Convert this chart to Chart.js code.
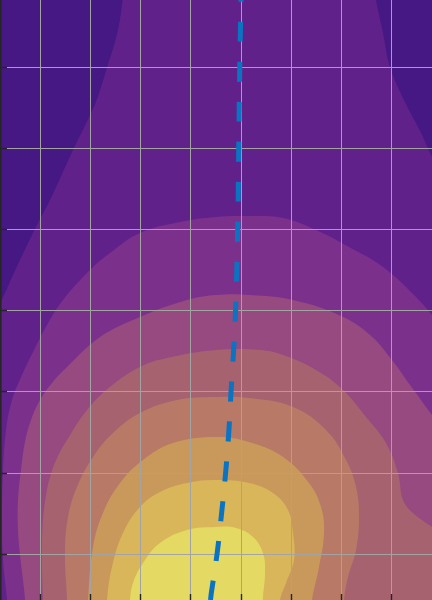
<!DOCTYPE html>
<html>
<head>
<meta charset="utf-8">
<script src="https://cdn.jsdelivr.net/npm/chart.js@4/dist/chart.umd.min.js"></script>
<style>
  html, body { margin: 0; padding: 0; background: #fff; overflow: hidden; }
  canvas { display: block; }
</style>
</head>
<body>
<canvas id="chart" width="432" height="600"></canvas>
<script>
// tick positions (the labels sit outside the cropped view, only the marks show)
const X_TICKS = [0, 1, 2, 3, 4, 5, 6, 7];
const Y_TICKS = [0, 1, 2, 3, 4, 5, 6];
const X_MIN = -0.803, X_MAX = 7.803;
const Y_MIN = -0.565, Y_MAX = 6.834;

// filled contours: outline of the region at or above each level
const level0 = [[-1, -0.8], [8, -0.8], [8, 7], [-1, 7]];
const level1 = [
  [1.66, 7.0], [1.641, 6.834], [1.534, 6.427], [1.333, 6.008], [1.123, 5.6], [0.99, 5.414],
  [0.671, 5.008], [0.193, 4.367], [-0.106, 4.01], [-0.47, 3.541], [-0.769, 3.134], [-1.0, 2.85],
  [-1.0, -0.8], [8.0, -0.8], [8.0, 4.65], [7.803, 4.898], [7.584, 5.193], [7.245, 5.6],
  [6.966, 6.008], [6.827, 6.427], [6.687, 6.834], [6.65, 7.0]
];
const level2 = [
  [-0.65, -0.8], [-0.663, -0.565], [-0.743, -0.072], [-0.763, 0.422], [-0.743, 1.038],
  [-0.683, 1.531], [-0.564, 1.901], [-0.365, 2.21], [-0.125, 2.518], [0.133, 2.826],
  [0.452, 3.134], [0.99, 3.504], [1.388, 3.714], [1.986, 3.961], [2.783, 4.096], [3.5, 4.158],
  [4.177, 4.17], [4.835, 4.145], [5.492, 3.998], [6.149, 3.788], [6.827, 3.541], [7.484, 3.171],
  [7.803, 2.949], [8.0, 2.8], [8.0, -0.8]
];
const level3 = [
  [-0.305, -0.8], [-0.305, -0.565], [-0.345, -0.318], [-0.404, -0.01], [-0.444, 0.298],
  [-0.444, 0.668], [-0.384, 1.038], [-0.305, 1.383], [-0.185, 1.655], [-0.006, 1.901],
  [0.233, 2.111], [0.532, 2.308], [1.189, 2.678], [1.986, 2.925], [2.922, 3.134], [3.5, 3.196],
  [4.177, 3.196], [5.034, 3.134], [5.99, 2.937], [6.568, 2.703], [7.006, 2.395], [7.365, 2.086],
  [7.803, 1.716], [8.0, 1.55], [8.0, -0.8]
];
const level4 = [
  [0.054, -0.8], [0.054, -0.565], [0.034, -0.195], [0.034, 0.113], [0.054, 0.422], [0.114, 0.73],
  [0.213, 0.989], [0.353, 1.211], [0.532, 1.408], [0.93, 1.778], [1.388, 2.062], [1.986, 2.308],
  [2.524, 2.419], [3.5, 2.518], [4.376, 2.518], [4.835, 2.456], [5.492, 2.271], [6.03, 2.025],
  [6.488, 1.692], [6.886, 1.371], [7.125, 1.001], [7.225, 0.668], [7.424, 0.508], [7.803, 0.335],
  [8.0, 0.25], [8.0, -0.8]
];
const level5 = [
  [0.532, -0.8], [0.532, -0.565], [0.492, 0.015], [0.552, 0.459], [0.731, 0.829], [1.05, 1.199],
  [1.448, 1.494], [1.986, 1.741], [2.723, 1.901], [3.5, 1.938], [4.157, 1.926], [5.034, 1.815],
  [5.691, 1.531], [6.09, 1.162], [6.289, 0.829], [6.349, 0.459], [6.289, 0.052], [6.129, -0.281],
  [6.05, -0.565], [6.03, -0.8]
];
const level6 = [
  [0.95, -0.8], [0.95, -0.565], [1.05, 0.089], [1.249, 0.508], [1.588, 0.878], [2.046, 1.162],
  [2.643, 1.371], [3.5, 1.445], [4.157, 1.383], [4.835, 1.199], [5.352, 0.878], [5.592, 0.582],
  [5.651, 0.261], [5.552, -0.158], [5.412, -0.565], [5.39, -0.8]
];
const level7 = [
  [1.329, -0.8], [1.329, -0.565], [1.428, -0.158], [1.647, 0.261], [1.986, 0.582], [2.384, 0.767],
  [2.922, 0.878], [3.5, 0.915], [4.157, 0.878], [4.635, 0.755], [4.934, 0.545], [5.034, 0.261],
  [5.054, -0.072], [4.895, -0.355], [4.775, -0.565], [4.76, -0.8]
];
const level8 = [
  [1.787, -0.8], [1.787, -0.565], [1.847, -0.355], [2.046, -0.109], [2.384, 0.138], [2.922, 0.298],
  [3.5, 0.335], [3.898, 0.323], [4.237, 0.212], [4.436, 0.015], [4.476, -0.232], [4.436, -0.528],
  [4.42, -0.8]
];

// dashed ridge line through the peak
const ridgeX = [3.998, 3.972, 3.952, 3.932, 3.888, 3.849, 3.799, 3.755, 3.693, 3.614, 3.526, 3.41, 3.39];
const ridgeY = [6.834, 5.946, 4.96, 3.973, 2.986, 2.493, 2.0, 1.507, 1.014, 0.521, 0.027, -0.466, -0.565];

const LEVELS = [level0, level1, level2, level3, level4, level5, level6, level7, level8];
const LEVEL_COLORS = [
  '#461884', '#61218b', '#7b318b', '#964a80', '#a7626f',
  '#b87a66', '#c9995c', '#d9b65a', '#e4da63'
];
const GRID_COLOR = '#a3a3a3';
const AXIS_COLOR = '#262626';

const levelSets = LEVELS.map((pts, i) => ({
  label: 'level ' + i,
  data: pts.map(([x, y]) => ({ x, y })),
  showLine: true,
  fill: 'shape',
  backgroundColor: LEVEL_COLORS[i],
  borderColor: 'rgba(0,0,0,0)',
  borderWidth: 0,
  pointRadius: 0,
  tension: i === 0 ? 0 : 0.4,
  order: 20 - i
}));

const ridgeSet = {
  label: 'ridge',
  data: ridgeX.map((x, i) => ({ x, y: ridgeY[i] })),
  showLine: true,
  fill: false,
  borderColor: '#0a74c2',
  borderWidth: 5,
  borderDash: [20, 20],
  borderDashOffset: 18.3,
  pointRadius: 0,
  tension: 0.4,
  order: 0
};

// grid + inward ticks + left spine, drawn over the contours but under the ridge line
const axesOverFill = {
  id: 'axesOverFill',
  afterDatasetDraw(chart, args) {
    if (args.index !== LEVELS.length - 1) return;
    const { ctx, chartArea: a, scales: { x, y } } = chart;
    const xs = x.ticks.map(t => Math.floor(x.getPixelForValue(t.value)) + 0.5);
    const ys = y.ticks.map(t => Math.floor(y.getPixelForValue(t.value)) + 0.5);
    ctx.save();
    ctx.strokeStyle = GRID_COLOR;
    ctx.lineWidth = 1;
    ctx.beginPath();
    xs.forEach(px => { ctx.moveTo(px, a.top); ctx.lineTo(px, a.bottom); });
    ys.forEach(py => { ctx.moveTo(a.left, py); ctx.lineTo(a.right, py); });
    ctx.stroke();

    ctx.strokeStyle = AXIS_COLOR;
    ctx.lineWidth = 1.4;
    ctx.beginPath();
    xs.forEach(px => { ctx.moveTo(px, a.bottom); ctx.lineTo(px, a.bottom - 6); });
    ys.forEach(py => { ctx.moveTo(a.left, py); ctx.lineTo(a.left + 7, py); });
    ctx.stroke();
    ctx.fillStyle = AXIS_COLOR;
    ctx.fillRect(a.left, a.top, 1.6, a.bottom - a.top);
    ctx.restore();
  }
};

const hiddenAxis = (min, max, ticks) => ({
  type: 'linear',
  min, max,
  afterBuildTicks: s => { s.ticks = ticks.map(v => ({ value: v })); },
  ticks: { display: false },
  grid: { display: false, drawTicks: false },
  border: { display: false }
});

new Chart(document.getElementById('chart'), {
  type: 'scatter',
  data: { datasets: [...levelSets, ridgeSet] },
  options: {
    responsive: false,
    animation: false,
    layout: { padding: 0 },
    elements: { line: { capBezierPoints: false } },
    plugins: {
      legend: { display: false },
      tooltip: { enabled: false }
    },
    scales: {
      x: hiddenAxis(X_MIN, X_MAX, X_TICKS),
      y: hiddenAxis(Y_MIN, Y_MAX, Y_TICKS)
    }
  },
  plugins: [axesOverFill]
});
</script>
</body>
</html>
